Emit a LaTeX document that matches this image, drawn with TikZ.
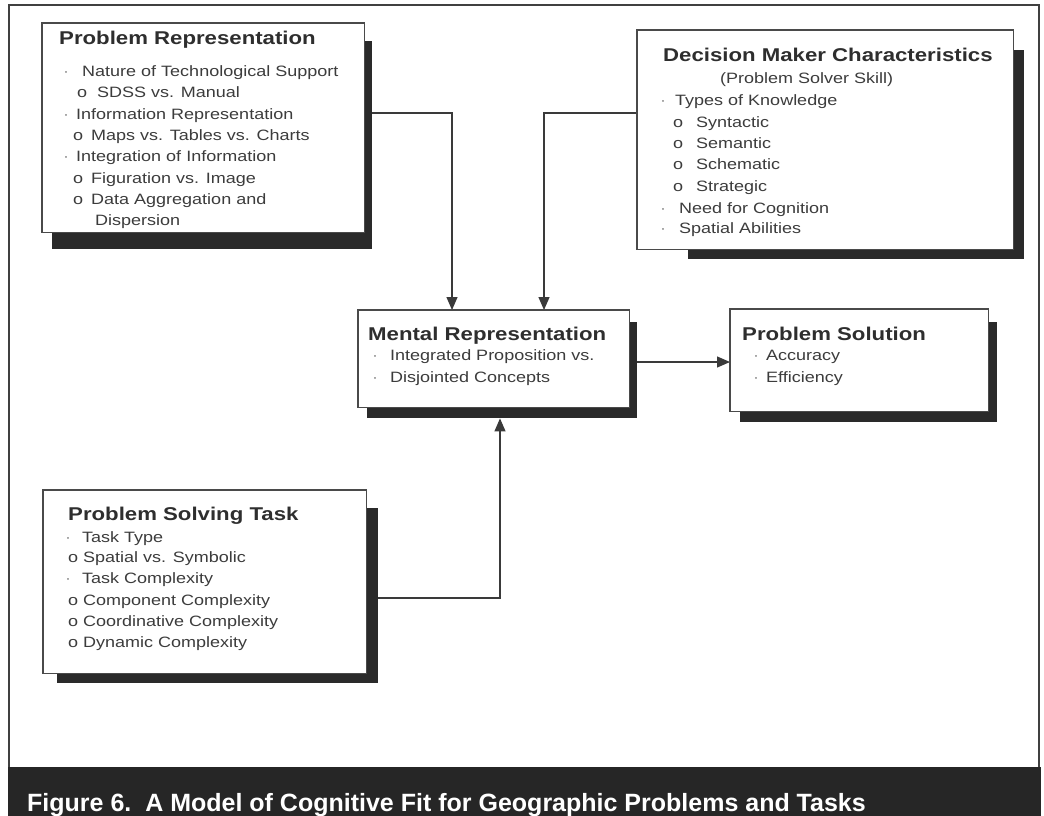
\documentclass[tikz,border=0pt]{standalone}
\usepackage{fontspec}
\setmainfont{Liberation Sans}
\newfontfamily\bodyfont[FakeStretch=1.2]{Liberation Sans}
\newfontfamily\capfont{Liberation Sans}
\usetikzlibrary{arrows.meta}
\definecolor{txt}{HTML}{2E2E2E}
\definecolor{txttwo}{HTML}{3C3C3C}
\definecolor{dotc}{HTML}{8A8A8A}
\definecolor{boxline}{HTML}{4A4A4A}
\definecolor{shadowc}{HTML}{2A2A2A}
\definecolor{linec}{HTML}{3A3A3A}
\definecolor{framec}{HTML}{404040}
\definecolor{bandc}{HTML}{262626}
\tikzset{
  box/.style={draw=boxline, line width=1.1pt, fill=white, inner sep=0pt, anchor=north west},
  shade/.style={fill=shadowc, draw=none, inner sep=0pt, anchor=north west},
  ttl/.style={anchor=base west, inner sep=0pt, font=\bodyfont\bfseries\fontsize{18.5}{20}\selectfont, text=txt},
  itm/.style={anchor=base west, inner sep=0pt, font=\bodyfont\fontsize{15}{18}\selectfont, text=txttwo},
  dot/.style={anchor=base west, inner sep=0pt, font=\bodyfont\fontsize{15}{18}\selectfont, text=dotc},
  conn/.style={draw=linec, line width=1.2pt, -{Triangle[length=13pt,width=11pt]}},
}
\begin{document}
\begin{tikzpicture}[x=1pt,y=-1pt]
\useasboundingbox (0,0) rectangle (1044,816);
\fill[white] (0,0) rectangle (1044,816);
% frame and caption band
\draw[framec, line width=2.5pt] (9,5) rectangle (1039,768);
\fill[bandc] (8,767) rectangle (1041,816);
\node[anchor=base west, inner sep=0pt, text=white, font=\capfont\bfseries\fontsize{25}{27}\selectfont] (cap) at (27,811) {Figure 6.\ \ A Model of Cognitive Fit for Geographic Problems and Tasks};

% invisible placement of box outlines (for connector ends)
\path (52,41) coordinate (prsnw);
% connectors (drawn first; their starts are hidden by shadows)
\node[shade, minimum width=320pt, minimum height=208pt, fill=none] (prs) at (52,41) {};
\node[shade, minimum width=336pt, minimum height=209pt, fill=none] (dms) at (688,50) {};
\node[shade, minimum width=270pt, minimum height=96pt, fill=none] (mrs) at (367,322) {};
\node[shade, minimum width=257pt, minimum height=100pt, fill=none] (pss) at (740,322) {};
\node[shade, minimum width=321pt, minimum height=175pt, fill=none] (psts) at (57,508) {};
\node[box, minimum width=321pt, minimum height=208pt, draw=none, fill=none] (pr) at (42,23) {};
\node[box, minimum width=375pt, minimum height=218pt, draw=none, fill=none] (dm) at (637,30) {};
\node[box, minimum width=270pt, minimum height=96pt, draw=none, fill=none] (mr) at (358,310) {};
\node[box, minimum width=257pt, minimum height=101pt, draw=none, fill=none] (ps) at (730,309) {};
\node[box, minimum width=322pt, minimum height=182pt, draw=none, fill=none] (pst) at (43,490) {};

\draw[conn] (pr.east |- 0,113) -| (mr.north -| 452,0);
\draw[conn] (dm.west |- 0,113) -| (mr.north -| 544,0);
\draw[conn] (mrs.east |- 0,362) -- (ps.west |- 0,362);
\draw[conn] (pst.east |- 0,598) -| (mrs.south -| 500,0);

% shadows
\fill[shadowc] (prs.north west) rectangle (prs.south east);
\fill[shadowc] (dms.north west) rectangle (dms.south east);
\fill[shadowc] (mrs.north west) rectangle (mrs.south east);
\fill[shadowc] (pss.north west) rectangle (pss.south east);
\fill[shadowc] (psts.north west) rectangle (psts.south east);

% boxes
\draw[boxline, line width=1.1pt, fill=white] (pr.north west) rectangle (pr.south east);
\draw[boxline, line width=1.1pt, fill=white] (dm.north west) rectangle (dm.south east);
\draw[boxline, line width=1.1pt, fill=white] (mr.north west) rectangle (mr.south east);
\draw[boxline, line width=1.1pt, fill=white] (ps.north west) rectangle (ps.south east);
\draw[boxline, line width=1.1pt, fill=white] (pst.north west) rectangle (pst.south east);

% Problem Representation
\node[ttl] (prt) at (59,45) {Problem Representation};
\node[dot] (prd1) at (63,77) {·};
\node[itm] (pr1) at (82,77) {Nature of Technological Support};
\node[itm] (pro1) at (77,97) {o};
\node[itm] (pr2) at (97,97) {SDSS vs. Manual};
\node[dot] (prd2) at (63,119) {·};
\node[itm] (pr3) at (76,119) {Information Representation};
\node[itm] (pro2) at (73,140) {o};
\node[itm] (pr4) at (91,140) {Maps vs. Tables vs. Charts};
\node[dot] (prd3) at (63,161) {·};
\node[itm] (pr5) at (76,161) {Integration of Information};
\node[itm] (pro3) at (73,183) {o};
\node[itm] (pr6) at (91,183) {Figuration vs. Image};
\node[itm] (pro4) at (73,204) {o};
\node[itm] (pr7) at (91,204) {Data Aggregation and};
\node[itm] (pr8) at (95,225) {Dispersion};

% Decision Maker Characteristics
\node[ttl] (dmt) at (663,62) {Decision Maker Characteristics};
\node[itm] (dmsub) at (720,83) {(Problem Solver Skill)};
\node[dot] (dmd1) at (660,106) {·};
\node[itm] (dm1) at (675,106) {Types of Knowledge};
\node[itm] (dmo1) at (673,127) {o};
\node[itm] (dm2) at (696,127) {Syntactic};
\node[itm] (dmo2) at (673,148) {o};
\node[itm] (dm3) at (696,148) {Semantic};
\node[itm] (dmo3) at (673,169) {o};
\node[itm] (dm4) at (696,169) {Schematic};
\node[itm] (dmo4) at (673,191) {o};
\node[itm] (dm5) at (696,191) {Strategic};
\node[dot] (dmd2) at (660,213) {·};
\node[itm] (dm6) at (679,213) {Need for Cognition};
\node[dot] (dmd3) at (660,233) {·};
\node[itm] (dm7) at (679,233) {Spatial Abilities};

% Mental Representation
\node[ttl] (mrt) at (368,340) {Mental Representation};
\node[dot] (mrd1) at (372,360) {·};
\node[itm] (mr1) at (390,360) {Integrated Proposition vs.};
\node[dot] (mrd2) at (372,382) {·};
\node[itm] (mr2) at (390,382) {Disjointed Concepts};

% Problem Solution
\node[ttl] (pstl) at (742,340) {Problem Solution};
\node[dot] (psd1) at (753,360) {·};
\node[itm] (ps1) at (766,360) {Accuracy};
\node[dot] (psd2) at (753,382) {·};
\node[itm] (ps2) at (766,382) {Efficiency};

% Problem Solving Task
\node[ttl] (pstt) at (68,520) {Problem Solving Task};
\node[dot] (ptd1) at (65,542) {·};
\node[itm] (pt1) at (82,542) {Task Type};
\node[itm] (pto1) at (68,562) {o};
\node[itm] (pt2) at (83,562) {Spatial vs. Symbolic};
\node[dot] (ptd2) at (65,583) {·};
\node[itm] (pt3) at (82,583) {Task Complexity};
\node[itm] (pto2) at (68,605) {o};
\node[itm] (pt4) at (83,605) {Component Complexity};
\node[itm] (pto3) at (68,626) {o};
\node[itm] (pt5) at (83,626) {Coordinative Complexity};
\node[itm] (pto4) at (68,647) {o};
\node[itm] (pt6) at (83,647) {Dynamic Complexity};
\end{tikzpicture}
\end{document}
